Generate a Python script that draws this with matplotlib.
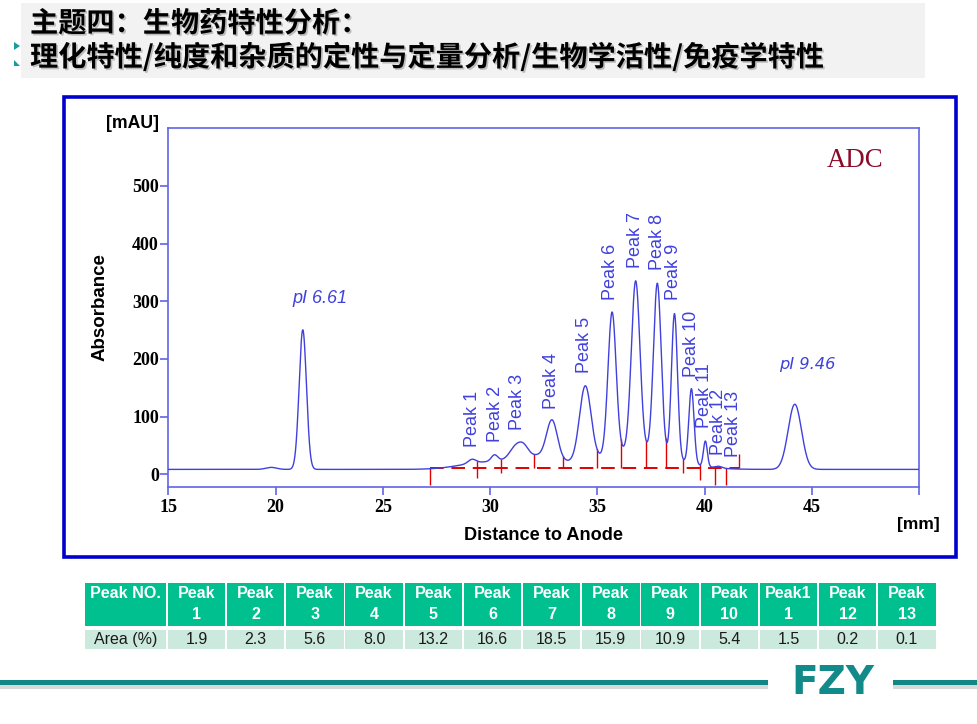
import matplotlib
matplotlib.use("Agg")
import matplotlib.pyplot as plt
import matplotlib.patheffects as pe
from matplotlib.patches import Rectangle, Polygon
import numpy as np

# electropherogram: peak centre (mm), height above base (mAU), sigma (mm)
baseline = 8.5
peak_centre = [19.8, 21.27, 29.8, 32.2, 36.8, 29.16, 30.21, 31.25, 31.60, 32.89, 34.44,
               35.69, 36.79, 37.80, 38.60, 39.39, 40.04, 40.66, 44.21]
peak_height = [3.5, 242, 12, 22, 32, 7, 11, 23, 10, 66, 131,
               247, 295, 296, 252, 130, 44, 3, 113]
peak_sigma = [0.25, 0.17, 1.2, 1.0, 1.7, 0.18, 0.15, 0.30, 0.20, 0.25, 0.27,
              0.19, 0.20, 0.18, 0.14, 0.12, 0.09, 0.15, 0.31]

# peak annotations
peak_names = ["Peak 1", "Peak 2", "Peak 3", "Peak 4", "Peak 5", "Peak 6", "Peak 7",
              "Peak 8", "Peak 9", "Peak 10", "Peak 11", "Peak 12", "Peak 13"]
label_x = [29.16, 30.24, 31.26, 32.85, 34.40, 35.64, 36.78, 37.80, 38.57, 39.39, 39.99, 40.66, 41.36]
label_y = [48, 56.5, 77, 114, 175, 302, 357, 354, 302, 169, 80, 33, 30]

# integration marks (red)
int_level = 10.4
mark_x = [27.21, 29.39, 30.51, 32.03, 33.40, 34.99, 36.11, 37.28, 38.19, 39.02, 39.81, 40.48, 40.98, 41.60]
mark_bottom = [-19, -6, 2, 10.4, 10.4, 10.4, 10.4, 10.4, 10.4, 2, -10, -19, -19, 10.4]
end_mark_top = 35

# table
col_heads = ["Peak\n1", "Peak\n2", "Peak\n3", "Peak\n4", "Peak\n5", "Peak\n6", "Peak\n7",
             "Peak\n8", "Peak\n9", "Peak\n10", "Peak1\n1", "Peak\n12", "Peak\n13"]
area_pct = ["1.9", "2.3", "5.6", "8.0", "13.2", "16.6", "18.5", "15.9", "10.9", "5.4", "1.5", "0.2", "0.1"]

title1 = "主题四：生物药特性分析："
title2 = "理化特性/纯度和杂质的定性与定量分析/生物学活性/免疫学特性"

BLUE = "#4040dd"
SPINE = "#6464e6"
TEAL = "#128585"

W, H = 978, 724
fig = plt.figure(figsize=(W / 100, H / 100), dpi=100)
bg = fig.add_axes([0, 0, 1, 1])
bg.set_xlim(0, W)
bg.set_ylim(H, 0)
bg.axis("off")

# title block
bg.add_patch(Rectangle((21, 3), 904, 75, facecolor="#f2f2f2", edgecolor="none"))
bg.add_patch(Polygon([[14, 42], [20, 46], [14, 50]], closed=True, facecolor="#1a9c9c", edgecolor="none"))
bg.add_patch(Polygon([[14, 60], [20, 66], [14, 66]], closed=True, facecolor="#1a9c9c", edgecolor="none"))
shadow = [pe.withSimplePatchShadow(offset=(1.2, -1.2), shadow_rgbFace="#999999", alpha=0.6)]
for txt, yy in ((title1, 24), (title2, 57)):
    bg.text(30, yy, txt, fontsize=20.3, fontweight="bold", va="center", ha="left",
            family=["Noto Sans CJK SC", "DejaVu Sans"], color="black", path_effects=shadow)

# blue frame around the chart
bg.add_patch(Rectangle((64, 96.5), 892, 460, facecolor="none", edgecolor="#0000cc", linewidth=2.6))

# axis titles
bg.text(132.5, 123, "[mAU]", fontsize=12.7, fontweight="bold", family="Liberation Sans",
        ha="center", va="center")
bg.text(100, 307.5, "Absorbance", fontsize=13.5, fontweight="bold", family="Liberation Sans",
        ha="center", va="center", rotation=90)
bg.text(543, 536, "Distance to Anode", fontsize=13.1, fontweight="bold", family="Liberation Sans",
        ha="center", va="center")
bg.text(918, 524, "[mm]", fontsize=12.5, fontweight="bold", family="Liberation Sans",
        ha="center", va="center")

# table
x_first, w_first = 85, 81
x0, cw = 167.7, 59.2
hy0, hy1 = 583.3, 625.7
dy0, dy1 = 630, 649
HEAD = "#00c08f"
ROW = "#cbe9dc"
bg.add_patch(Rectangle((x_first, hy0), w_first, hy1 - hy0, facecolor=HEAD, edgecolor="none"))
bg.add_patch(Rectangle((x_first, dy0), w_first, dy1 - dy0, facecolor=ROW, edgecolor="none"))
bg.text(x_first + w_first / 2, 593.3, "Peak NO.", color="white", fontsize=11.6, fontweight="bold",
        family="Liberation Sans", ha="center", va="center")
bg.text(x_first + w_first / 2, 639.5, "Area (%)", color="#1a1a1a", fontsize=11.5,
        family="Liberation Sans", ha="center", va="center")
for i, (head, val) in enumerate(zip(col_heads, area_pct)):
    left = x0 + i * cw
    bg.add_patch(Rectangle((left, hy0), cw - 1.8, hy1 - hy0, facecolor=HEAD, edgecolor="none"))
    bg.add_patch(Rectangle((left, dy0), cw - 1.8, dy1 - dy0, facecolor=ROW, edgecolor="none"))
    top, bottom = head.split("\n")
    cx = left + (cw - 1.8) / 2
    bg.text(cx, 593.3, top, color="white", fontsize=11.6, fontweight="bold",
            family="Liberation Sans", ha="center", va="center")
    bg.text(cx, 614.3, bottom, color="white", fontsize=11.6, fontweight="bold",
            family="Liberation Sans", ha="center", va="center")
    bg.text(cx, 639.5, val, color="#1a1a1a", fontsize=11.5,
            family="Liberation Sans", ha="center", va="center")

# footer line + logo
for xa, xb in ((0, 768), (893, W)):
    bg.add_patch(Rectangle((xa, 685), xb - xa, 4, facecolor="#d8d8d8", edgecolor="none"))
    bg.add_patch(Rectangle((xa, 679.5), xb - xa, 5, facecolor=TEAL, edgecolor="none"))
bg.text(833, 683, "FZY", color="#138a8a", fontsize=28, fontweight="bold", family="DejaVu Sans",
        ha="center", va="center")

# chart
ax = fig.add_axes([168.3 / W, 1 - 486.7 / H, (919 - 168.3) / W, (486.7 - 128.3) / H])
ax.set_facecolor("white")
x = np.linspace(15, 50, 3501)
trace = np.full_like(x, baseline)
for c, h, s in zip(peak_centre, peak_height, peak_sigma):
    trace += h * np.exp(-(x - c) ** 2 / (2 * s ** 2))
ax.plot(x, trace, color=BLUE, linewidth=1.0, zorder=3)

ax.hlines(int_level, mark_x[0], mark_x[-1], colors="#e00000", linestyles=(0, (7, 4)),
          linewidth=1.4, zorder=2)
mark_top = np.interp(mark_x, x, trace)
mark_top[0] = int_level
mark_top[-1] = end_mark_top
ax.vlines(mark_x, mark_bottom, mark_top, colors="#e00000", linewidth=1.0, zorder=2)

for name, lx, ly in zip(peak_names, label_x, label_y):
    ax.text(lx, ly, name, rotation=90, ha="center", va="bottom", color=BLUE,
            fontsize=13, family="Liberation Sans")
ax.text(22.06, 304, "pI 6.61", color=BLUE, fontsize=13, style="italic",
        family="Liberation Sans", ha="center", va="center")
ax.text(44.79, 190.6, "pI 9.46", color=BLUE, fontsize=11.7, style="italic",
        family="DejaVu Sans", ha="center", va="center")
ax.text(47.04, 545, "ADC", color="#8b0a2a", fontsize=19.3, family="Liberation Serif",
        ha="center", va="center")

ax.set_xlim(15, 50)
ax.set_ylim(-21.5, 600)
ax.set_xticks([15, 20, 25, 30, 35, 40, 45, 50])
ax.set_xticklabels(["15", "20", "25", "30", "35", "40", "45", ""])
ax.set_yticks([0, 100, 200, 300, 400, 500])
for sp in ax.spines.values():
    sp.set_color(SPINE)
    sp.set_linewidth(1.2)
ax.tick_params(direction="out", length=6, width=1.2, color=SPINE)
ax.tick_params(axis="y", pad=0.8)
ax.tick_params(axis="x", pad=3)
for lab in ax.get_xticklabels() + ax.get_yticklabels():
    lab.set_fontfamily("Liberation Serif")
    lab.set_fontweight("bold")
    lab.set_fontsize(13)

fig.savefig("out.png", dpi=100)
